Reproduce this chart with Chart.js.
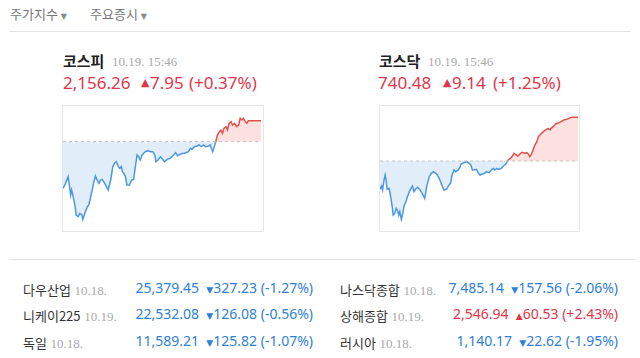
<!DOCTYPE html>
<html><head><meta charset="utf-8">
<script src="https://cdn.jsdelivr.net/npm/chart.js@4"></script>
<style>
html,body{margin:0;padding:0;background:#fff;width:640px;height:358px;overflow:hidden;font-family:'Noto Sans CJK KR','Noto Sans',sans-serif;}
.a{position:absolute;white-space:nowrap;line-height:20px;}
.tab{font-size:13px;color:#777;}
.arr{font-size:8px;color:#888;font-family:'DejaVu Sans',sans-serif;}
.ttl{font-size:15px;font-weight:bold;color:#222;}
.dt{font-size:13px;color:#aaa;font-family:'Liberation Serif',serif;}
.big{font-size:17px;font-family:'Noto Sans','Liberation Sans',sans-serif;}
.tri{font-size:11px;font-family:'DejaVu Sans',sans-serif;}
.up{color:#e2364a;}
.dn{color:#2f7fd8;}
.box{position:absolute;border:1px solid #e6e6e6;box-sizing:border-box;}
.hl{position:absolute;height:1px;background:#e4e4e4;}
.nm{font-size:13px;color:#333;}
.val{font-size:14px;font-family:'Noto Sans','Liberation Sans',sans-serif;text-align:right;}
.stri{font-size:9px;font-family:'DejaVu Sans',sans-serif;}
</style></head><body>
<div class="a tab" style="left:10px;top:4px;">주가지수 <span class="arr">▼</span></div>
<div class="a tab" style="left:90px;top:4px;">주요증시 <span class="arr">▼</span></div>
<div class="hl" style="left:9px;top:31px;width:622px;"></div>

<div id="hdr"></div>
<div class="box" style="left:62px;top:105px;width:202px;height:127px;"></div>
<div class="box" style="left:379px;top:105px;width:201px;height:127px;"></div>
<canvas id="c1" width="198" height="124" style="position:absolute;left:63px;top:106px;"></canvas>
<canvas id="c2" width="198" height="124" style="position:absolute;left:380px;top:106px;"></canvas>

<div class="hl" style="left:9px;top:259px;width:626px;"></div>
<div id="tbl"></div>

<script>
// ---- data ----
const indexNames = ['코스피', '코스닥'];
const indexDates = ['10.19. 15:46', '10.19. 15:46'];
const indexValues = ['2,156.26', '740.48'];
const indexChanges = ['7.95', '9.14'];
const indexPercents = ['(+0.37%)', '(+1.25%)'];
const prevClose = [2148.31, 731.34];

const kospiTimes = [0,5,10,13,15,17,20,24,26,30,33,37,39,43,48,51,56,61,64,67,71,74,77,80,84,89,94,98,102,105,109,112,115,117,120,123,126,131,135,139,143,146,149,152,156,159,162,168,172,177,181,183,187,192,196,200,205,211,218,222,226,231,238,242,247,251,254,259,264,268,272,277,281,287,290,293,295,298,301,304,308,311,314,317,321,324,327,331,334,338,342,346,349,352,355,359,362,365,390];
const kospiValues = [2130.63,2132.53,2135.05,2131.26,2128.11,2130.00,2127.48,2123.69,2120.53,2119.90,2121.16,2120.53,2118.89,2121.16,2123.69,2124.32,2128.74,2133.16,2135.30,2133.79,2132.53,2133.79,2134.04,2133.16,2131.90,2130.00,2133.79,2138.84,2140.36,2140.73,2138.84,2138.21,2138.84,2136.95,2136.31,2135.05,2131.90,2131.90,2133.79,2134.04,2139.47,2143.26,2142.63,2141.37,2143.26,2143.89,2144.52,2144.90,2144.52,2144.52,2143.26,2140.73,2141.37,2142.63,2141.62,2140.73,2141.62,2142.00,2143.26,2144.14,2142.88,2143.64,2143.89,2144.14,2144.52,2145.78,2145.41,2146.42,2146.67,2147.05,2146.42,2147.05,2146.42,2146.67,2147.05,2145.41,2144.52,2146.42,2148.31,2150.84,2152.10,2152.73,2151.47,2153.36,2153.99,2152.73,2155.25,2155.89,2154.62,2155.25,2153.99,2154.62,2157.15,2156.52,2157.15,2155.89,2155.25,2156.26,2156.26];

const kosdaqTimes = [0,3,5,8,10,12,14,18,21,24,26,29,32,34,37,39,42,45,47,51,54,59,64,67,70,74,79,83,88,92,97,101,105,110,113,118,123,126,131,136,139,142,146,149,154,158,160,165,171,175,179,182,185,190,193,197,202,206,210,215,219,223,226,230,234,239,243,248,251,254,257,261,264,267,271,274,277,280,285,289,292,295,298,302,305,309,312,315,318,322,324,328,331,335,337,341,346,349,353,357,362,368,372,377,382,390];
const kosdaqValues = [725.41,726.11,725.27,727.36,728.41,727.36,725.41,725.62,723.87,721.78,720.03,720.38,721.43,721.08,720.03,720.73,719.13,720.38,721.78,722.83,723.87,725.27,726.11,724.92,725.41,725.83,725.27,724.57,723.52,725.97,728.06,728.76,729.11,728.76,728.41,727.36,725.97,725.27,725.41,726.32,726.66,728.41,729.46,729.11,729.46,730.15,730.71,730.99,731.20,730.85,730.50,729.46,729.46,729.60,728.90,728.41,728.62,728.76,729.11,728.90,729.46,729.80,729.46,729.80,729.60,729.80,730.29,730.71,731.34,731.69,731.90,732.39,732.95,732.74,732.39,732.60,732.95,733.15,732.95,733.08,732.81,732.25,732.74,733.78,734.69,735.39,736.43,736.78,737.13,737.48,737.69,737.97,738.18,737.83,738.18,738.53,739.09,739.23,739.37,739.57,739.92,740.06,740.27,740.48,740.48,740.48];

const worldNames = ['다우산업','니케이225','독일','나스닥종합','상해종합','러시아'];
const worldDates = ['10.18.','10.19.','10.18.','10.18.','10.19.','10.18.'];
const worldValues = ['25,379.45','22,532.08','11,589.21','7,485.14','2,546.94','1,140.17'];
const worldChanges = ['327.23','126.08','125.82','157.56','60.53','22.62'];
const worldPercents = ['(-1.27%)','(-0.56%)','(-1.07%)','(-2.06%)','(+2.43%)','(-1.95%)'];
const worldUp = [false,false,false,false,true,false];

// ---- header text ----
const hdr = document.getElementById('hdr');
const hx = [{t:63,d:112,v:63,tr:141,c:150,p:189},{t:379,d:428,v:378,tr:443,c:452,p:493}];
indexNames.forEach((n,i)=>{
  const h = hx[i];
  hdr.insertAdjacentHTML('beforeend',
    `<div class="a ttl" style="left:${h.t}px;top:51px;">${n}</div>`+
    `<div class="a dt" style="left:${h.d}px;top:52px;">${indexDates[i]}</div>`+
    `<div class="a big up" style="left:${h.v}px;top:73px;">${indexValues[i]}</div>`+
    `<div class="a tri up" style="left:${h.tr}px;top:73px;">▲</div>`+
    `<div class="a big up" style="left:${h.c}px;top:73px;">${indexChanges[i]}</div>`+
    `<div class="a big up" style="left:${h.p}px;top:73px;">${indexPercents[i]}</div>`);
});

// ---- table ----
const tbl = document.getElementById('tbl');
const rowY = [278, 304, 331];
worldNames.forEach((n,i)=>{
  const col = i<3?0:1, r = i%3;
  const lx = col===0?23:340, rx = col===0?313:618;
  const cls = worldUp[i]?'up':'dn';
  const tri = worldUp[i]?'▲':'▼';
  tbl.insertAdjacentHTML('beforeend',
    `<div class="a" style="left:${lx}px;top:${rowY[r]}px;"><span class="nm">${n}</span> <span class="dt">${worldDates[i]}</span></div>`+
    `<div class="a val ${cls}" style="right:${640-rx}px;top:${rowY[r]}px;">${worldValues[i]}&nbsp;&nbsp;<span class="stri">${tri}</span>${worldChanges[i]} ${worldPercents[i]}</div>`);
});

// ---- charts ----
const RED = '#e0524e', BLUE = '#4c98e0';
function makeChart(id, times, values, base, yMin, yMax){
  const pts = times.map((t,k)=>({x:t, y:values[k]}));
  new Chart(document.getElementById(id), {
    type:'line',
    data:{datasets:[
      {data:pts, order:1, borderWidth:1.5, pointRadius:0, tension:0, borderColor:BLUE,
       fill:{target:{value:base}, above:'rgba(252,215,215,0.75)', below:'rgba(214,230,248,0.7)'},
       segment:{borderColor: c => (c.p0.parsed.y>=base && c.p1.parsed.y>=base) ? RED : BLUE}},
      {data:[{x:0,y:base},{x:390,y:base}], order:0, borderColor:'#c2c2c2', borderWidth:1, borderDash:[3,3], pointRadius:0, fill:false}
    ]},
    options:{responsive:false, animation:false, events:[],
      plugins:{legend:{display:false}, tooltip:{enabled:false}},
      layout:{padding:0},
      scales:{x:{type:'linear', min:0, max:390, display:false},
              y:{min:yMin, max:yMax, display:false}}}
  });
}
makeChart('c1', kospiTimes, kospiValues, prevClose[0], 2114.85, 2161.82);
makeChart('c2', kosdaqTimes, kosdaqValues, prevClose[1], 716.90, 742.85);
</script>
</body></html>
